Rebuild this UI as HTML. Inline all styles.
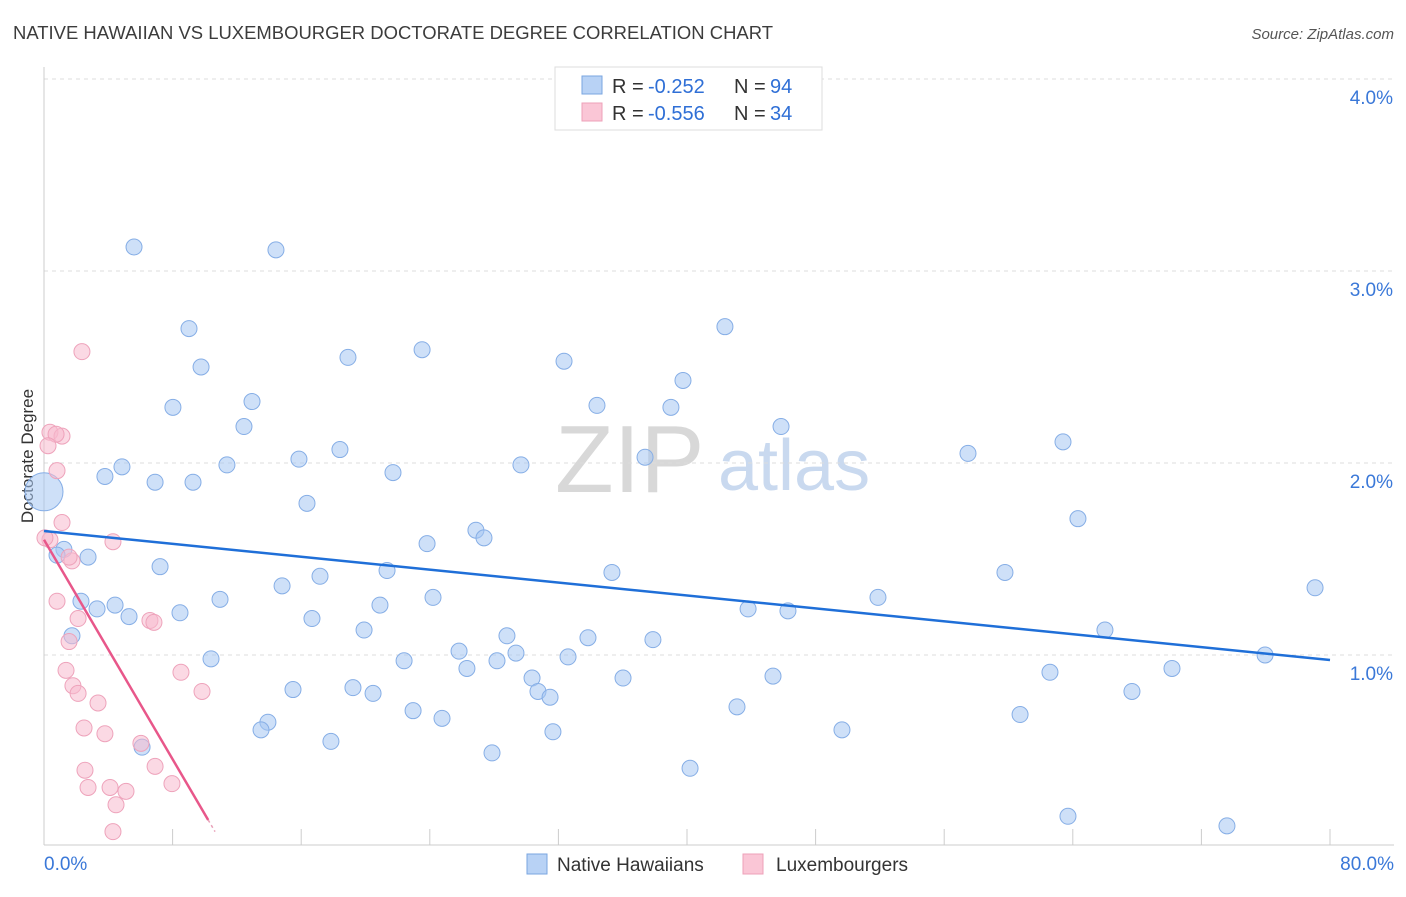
<!DOCTYPE html>
<html><head><meta charset="utf-8">
<style>
body{margin:0;background:#fff;font-family:"Liberation Sans",sans-serif;}
svg text{font-family:"Liberation Sans",sans-serif;}
</style></head>
<body>
<svg id="chart" width="1406" height="892" xmlns="http://www.w3.org/2000/svg">
<text x="13" y="39" font-size="18" fill="#3c3c3c" textLength="760" lengthAdjust="spacingAndGlyphs">NATIVE HAWAIIAN VS LUXEMBOURGER DOCTORATE DEGREE CORRELATION CHART</text>
<text x="1394" y="39" font-size="15" fill="#555" text-anchor="end" font-style="italic">Source: ZipAtlas.com</text>
<text transform="translate(33,456) rotate(-90)" font-size="17" fill="#333" text-anchor="middle">Doctorate Degree</text>
<g>
<text x="555" y="492" font-size="96" fill="#d8d8d8" font-family="Liberation Serif,serif">ZIP</text>
<text x="718" y="490" font-size="72" fill="#c9d9ef">atlas</text>
</g>
<g id="grid"></g>
<g id="axes"></g>
<g id="marks"></g>
<g>
<rect x="555" y="67" width="267" height="63" fill="#fff" stroke="#ddd"/>
<rect x="582" y="76" width="20" height="18" fill="#b8d2f5" stroke="#7aa6e0"/>
<rect x="582" y="103" width="20" height="18" fill="#fac6d6" stroke="#eea0b8"/>
<text x="612" y="93" font-size="20" fill="#333">R = </text>
<text x="648" y="93" font-size="20" fill="#2f6fd6">-0.252</text>
<text x="734" y="93" font-size="20" fill="#333">N = </text>
<text x="770" y="93" font-size="20" fill="#2f6fd6">94</text>
<text x="612" y="120" font-size="20" fill="#333">R = </text>
<text x="648" y="120" font-size="20" fill="#2f6fd6">-0.556</text>
<text x="734" y="120" font-size="20" fill="#333">N = </text>
<text x="770" y="120" font-size="20" fill="#2f6fd6">34</text>
</g>
<g>
<rect x="527" y="854" width="20" height="20" fill="#b8d2f5" stroke="#7aa6e0"/>
<text x="557" y="871" font-size="19" fill="#333">Native Hawaiians</text>
<rect x="743" y="854" width="20" height="20" fill="#fac6d6" stroke="#eea0b8"/>
<text x="776" y="871" font-size="19" fill="#333">Luxembourgers</text>
</g>
</svg>
<script>
const yTicks=[1,2,3,4];
const yTickLabels=["1.0%","2.0%","3.0%","4.0%"];
const xTickLabels=["0.0%","80.0%"];
const blueX=[5.60,14.43,9.02,9.77,8.02,12.94,12.44,18.91,23.52,32.35,42.36,39.75,34.40,39.00,45.85,63.39,57.48,37.39,29.67,18.41,15.86,11.38,4.85,3.79,6.91,9.27,21.71,16.36,64.32,26.87,27.37,23.83,1.24,0.81,2.74,7.22,21.34,17.17,35.33,59.78,14.81,79.07,2.30,4.42,3.30,5.29,10.95,8.46,24.20,51.88,20.90,16.67,43.80,46.28,1.74,19.91,28.80,33.84,37.88,66.00,10.39,25.82,29.36,28.18,22.40,32.60,26.31,75.96,70.17,62.58,30.36,36.02,45.35,15.49,19.22,20.47,30.73,31.48,67.68,22.96,24.76,43.11,60.72,13.93,13.50,17.85,31.66,49.64,6.10,27.87,40.19,63.70,73.59];
const blueY=[3.125,3.11,2.70,2.50,2.29,2.32,2.19,2.55,2.59,2.53,2.71,2.43,2.30,2.29,2.19,2.11,2.05,2.03,1.99,2.07,2.02,1.99,1.98,1.93,1.90,1.90,1.95,1.79,1.71,1.65,1.61,1.58,1.55,1.52,1.51,1.46,1.44,1.41,1.43,1.43,1.36,1.35,1.28,1.26,1.24,1.20,1.29,1.22,1.30,1.30,1.26,1.19,1.24,1.23,1.10,1.13,1.10,1.09,1.08,1.13,0.98,1.02,1.01,0.97,0.97,0.99,0.93,1.00,0.93,0.91,0.88,0.88,0.89,0.82,0.83,0.80,0.81,0.78,0.81,0.71,0.67,0.73,0.69,0.65,0.61,0.55,0.60,0.61,0.52,0.49,0.41,0.16,0.11];
const bigX=[0.0];
const bigY=[1.85];
const pinkX=[2.36,0.37,1.12,0.75,0.25,0.81,1.12,0.37,4.29,1.74,1.56,0.81,2.12,6.59,6.84,1.56,1.37,8.52,1.80,2.12,9.83,3.36,2.49,3.79,6.03,6.91,2.55,2.74,4.11,5.10,7.96,4.48,4.29,0.06];
const pinkY=[2.58,2.16,2.14,2.15,2.09,1.96,1.69,1.60,1.59,1.49,1.51,1.28,1.19,1.18,1.17,1.07,0.92,0.91,0.84,0.80,0.81,0.75,0.62,0.59,0.54,0.42,0.40,0.31,0.31,0.29,0.33,0.22,0.08,1.61];
const blueFit=[1.646,0.974];
const pinkFit=[1.60,0.08,10.64];

const NS="http://www.w3.org/2000/svg";
const X=v=>44+v/80*1286, Y=v=>847-v*192;
function mk(tag,attrs,parent){const e=document.createElementNS(NS,tag);for(const k in attrs)e.setAttribute(k,attrs[k]);document.getElementById(parent).appendChild(e);return e;}
yTicks.forEach((t,i)=>{
 const g=mk('line',{x1:44,x2:1394,y1:Y(t),y2:Y(t),stroke:'#ddd','stroke-dasharray':'4,4'},'grid');
 
 
 const l=mk('text',{x:1393,y:Y(t)+25,'font-size':19,fill:'#3a78d8','text-anchor':'end'},'grid');
 l.textContent=yTickLabels[i];
 
 
});
const ya=mk('line',{x1:44,x2:44,y1:67,y2:845,stroke:'#ccc'},'axes');


const xa=mk('line',{x1:44,x2:1394,y1:845,y2:845,stroke:'#ccc'},'axes');


for(let i=0;i<=10;i++){
 const t=mk('line',{x1:X(i*8),x2:X(i*8),y1:829,y2:845,stroke:'#ccc'},'axes');
 
 
}
[[0,'start',44],[80,'end',1394]].forEach((d,i)=>{
 const l=mk('text',{x:d[2],y:870,'font-size':19,fill:'#3a78d8','text-anchor':d[1]},'axes');
 l.textContent=xTickLabels[i];
 
 
});
blueX.forEach((v,i)=>{
 const c=mk('circle',{cx:X(v),cy:Y(blueY[i]),r:8,fill:'rgba(165,198,242,0.55)',stroke:'#86aee6','stroke-width':1},'marks');
 
 
});
bigX.forEach((v,i)=>{
 const c=mk('circle',{cx:X(v),cy:Y(bigY[i]),r:19,fill:'rgba(165,198,242,0.55)',stroke:'#86aee6'},'marks');
 
 
});
pinkX.forEach((v,i)=>{
 const c=mk('circle',{cx:X(v),cy:Y(pinkY[i]),r:8,fill:'rgba(248,185,205,0.55)',stroke:'#eea3bb','stroke-width':1},'marks');
 
 
});
const bl=mk('line',{x1:X(0),y1:Y(blueFit[0]),x2:X(80),y2:Y(blueFit[1]),stroke:'#1f6fd8','stroke-width':2.5},'marks');


const sl=(pinkFit[1]-pinkFit[0])/pinkFit[2];
const xs=pinkFit[2]*0.96;
const pl=mk('line',{x1:X(0),y1:Y(pinkFit[0]),x2:X(xs),y2:Y(pinkFit[0]+sl*xs),stroke:'#e8578a','stroke-width':2.5},'marks');


const pd=mk('line',{x1:X(xs),y1:Y(pinkFit[0]+sl*xs),x2:X(pinkFit[2]),y2:Y(pinkFit[1]),stroke:'#e8a0b8','stroke-width':1.5,'stroke-dasharray':'3,3'},'marks');


</script>
</body></html>
